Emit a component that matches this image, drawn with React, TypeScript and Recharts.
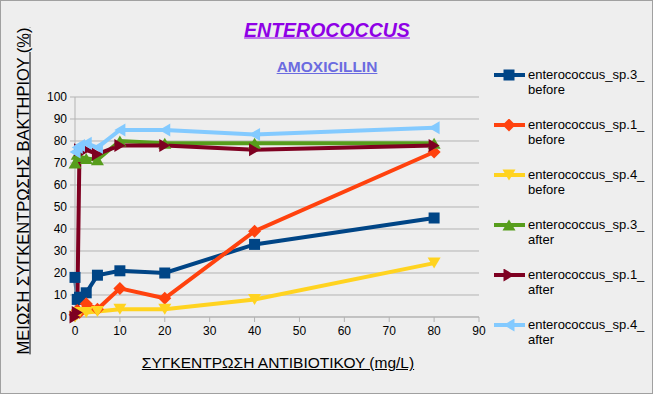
import React from 'react';
import { LineChart, Line, XAxis, YAxis, CartesianGrid, Legend } from 'recharts';

const concentrations = [0, 0.5, 1, 2.5, 5, 10, 20, 40, 80];
const sp3Before = [18, 8, 9, 11, 19, 21, 20, 33, 45];
const sp1Before = [1, 3, 2, 6, 3.5, 13, 8.5, 39, 75];
const sp4Before = [0, 1, 2, 2, 2.5, 3.5, 3.5, 8, 24.5];
const sp3After = [70, 74, 73, 72, 71.5, 80, 79, 79, 79];
const sp1After = [0, 2, 76, 76, 74, 78, 78, 76, 78];
const sp4After = [75, 77, 78, 79, 77, 85, 85, 83, 86];

const xTicks = [0, 10, 20, 30, 40, 50, 60, 70, 80, 90];
const yTicks = [0, 10, 20, 30, 40, 50, 60, 70, 80, 90, 100];

const seriesDefs = [
  { key: 'sp3b', name: 'enterococcus_sp.3_ before', values: sp3Before, color: '#004586', shape: 'square' },
  { key: 'sp1b', name: 'enterococcus_sp.1_ before', values: sp1Before, color: '#ff420e', shape: 'diamond' },
  { key: 'sp4b', name: 'enterococcus_sp.4_ before', values: sp4Before, color: '#ffd320', shape: 'down' },
  { key: 'sp3a', name: 'enterococcus_sp.3_ after', values: sp3After, color: '#579d1c', shape: 'up' },
  { key: 'sp1a', name: 'enterococcus_sp.1_ after', values: sp1After, color: '#7e0021', shape: 'right' },
  { key: 'sp4a', name: 'enterococcus_sp.4_ after', values: sp4After, color: '#83caff', shape: 'left' },
];

const data = concentrations.map((x, i) => {
  const row: any = { x };
  seriesDefs.forEach((s) => {
    row[s.key] = s.values[i];
  });
  return row;
});

function markerShape(shape: string, cx: number, cy: number, color: string, key?: any) {
  const r = 5.5;
  switch (shape) {
    case 'square':
      return <rect key={key} x={cx - r} y={cy - r} width={r * 2} height={r * 2} fill={color} />;
    case 'diamond':
      return <polygon key={key} points={`${cx},${cy - r - 1} ${cx + r + 1},${cy} ${cx},${cy + r + 1} ${cx - r - 1},${cy}`} fill={color} />;
    case 'down':
      return <polygon key={key} points={`${cx - r - 1},${cy - r} ${cx + r + 1},${cy - r} ${cx},${cy + r}`} fill={color} />;
    case 'up':
      return <polygon key={key} points={`${cx - r - 1},${cy + r} ${cx + r + 1},${cy + r} ${cx},${cy - r}`} fill={color} />;
    case 'right':
      return <polygon key={key} points={`${cx - r},${cy - r - 1} ${cx + r},${cy} ${cx - r},${cy + r + 1}`} fill={color} />;
    case 'left':
    default:
      return <polygon key={key} points={`${cx + r},${cy - r - 1} ${cx - r},${cy} ${cx + r},${cy + r + 1}`} fill={color} />;
  }
}

const font = '"Liberation Sans", Arial, sans-serif';

function LegendContent(props: any) {
  const payload = [...(props.payload || [])];
  const order = (e: any) => seriesDefs.findIndex((s) => s.key === e.dataKey);
  payload.sort((a: any, b: any) => order(a) - order(b));
  return (
    <div style={{ fontFamily: font, fontSize: 13, color: '#000' }}>
      {payload.map((entry: any, i: number) => {
        const def = seriesDefs.find((s) => s.key === entry.dataKey) || seriesDefs[i];
        const parts = String(entry.value).split(' ');
        return (
          <div key={i} style={{ display: 'flex', alignItems: 'flex-start', height: 50 }}>
            <svg width={35} height={16} style={{ flex: '0 0 auto' }}>
              <line x1={1} y1={6} x2={32} y2={6} stroke={def.color} strokeWidth={4} />
              {markerShape(def.shape, 16, 6, def.color)}
            </svg>
            <div style={{ lineHeight: '15px', marginTop: -2 }}>
              <div>{parts[0]}</div>
              <div>{parts[1]}</div>
            </div>
          </div>
        );
      })}
    </div>
  );
}

export default function App() {
  return (
    <div
      style={{
        position: 'absolute',
        left: 0,
        top: 0,
        width: 653,
        height: 394,
        background: '#eeeeee',
        boxSizing: 'border-box',
        border: '1px solid #a0a0a0',
        fontFamily: font,
      }}
    >
      <div style={{ position: 'absolute', left: -1, top: -1 }}>
        <LineChart
          width={653}
          height={394}
          data={data}
          margin={{ top: 97, right: 174, bottom: 47, left: 0 }}
        >
          <CartesianGrid vertical={false} stroke="#b3b3b3" strokeWidth={1} />
          <XAxis
            dataKey="x"
            type="number"
            domain={[0, 90]}
            ticks={xTicks}
            height={30}
            tickSize={5}
            tickMargin={4}
            stroke="#b3b3b3"
            tick={{ fill: '#000', fontSize: 12, fontFamily: font }}
            interval={0}
          />
          <YAxis
            type="number"
            domain={[0, 100]}
            ticks={yTicks}
            width={75}
            tickSize={5}
            tickMargin={3}
            stroke="#b3b3b3"
            tick={{ fill: '#000', fontSize: 12, fontFamily: font }}
            interval={0}
          />
          {seriesDefs.map((s) => (
            <Line
              key={s.key}
              type="linear"
              dataKey={s.key}
              name={s.name}
              stroke={s.color}
              strokeWidth={4}
              isAnimationActive={false}
              dot={(p: any) => markerShape(s.shape, p.cx, p.cy, s.color, `${s.key}-${p.index}`)}
              activeDot={false}
            />
          ))}
          <Legend
            layout="vertical"
            align="center"
            verticalAlign="middle"
            wrapperStyle={{ left: 493, top: 69, width: 160 }}
            content={<LegendContent />}
          />
        </LineChart>
      </div>
      <div
        style={{
          position: 'absolute',
          left: 326,
          top: 29,
          transform: 'translate(-50%, -50%)',
          fontSize: 19.5,
          fontWeight: 'bold',
          fontStyle: 'italic',
          textDecoration: 'underline',
          color: '#8f00e6',
          whiteSpace: 'nowrap',
        }}
      >
        ENTEROCOCCUS
      </div>
      <div
        style={{
          position: 'absolute',
          left: 326,
          top: 66,
          transform: 'translate(-50%, -50%)',
          fontSize: 15.5,
          fontWeight: 'bold',
          textDecoration: 'underline',
          color: '#6b6be0',
          whiteSpace: 'nowrap',
        }}
      >
        AMOXICILLIN
      </div>
      <div
        style={{
          position: 'absolute',
          left: 277,
          top: 362,
          transform: 'translate(-50%, -50%)',
          fontSize: 15.5,
          textDecoration: 'underline',
          color: '#000',
          whiteSpace: 'nowrap',
        }}
      >
        ΣΥΓΚΕΝΤΡΩΣΗ ΑΝΤΙΒΙΟΤΙΚΟΥ (mg/L)
      </div>
      <div
        style={{
          position: 'absolute',
          left: 22,
          top: 190,
          transform: 'translate(-50%, -50%) rotate(-90deg)',
          fontSize: 16.5,
          textDecoration: 'underline',
          color: '#000',
          whiteSpace: 'nowrap',
        }}
      >
        ΜΕΙΩΣΗ ΣΥΓΚΕΝΤΡΩΣΗΣ ΒΑΚΤΗΡΙΟΥ (%)
      </div>
    </div>
  );
}
